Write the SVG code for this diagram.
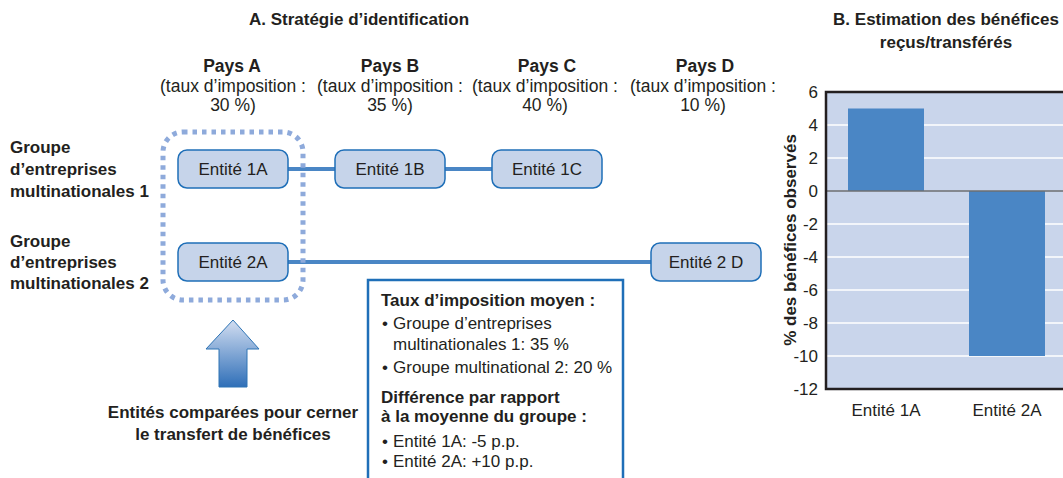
<svg xmlns="http://www.w3.org/2000/svg" width="1063" height="478" viewBox="0 0 1063 478">
<style>
text{font-family:"Liberation Sans",Arial,sans-serif;fill:#231f20;font-size:17px}
.b{font-weight:bold}
.m{text-anchor:middle}
.e{text-anchor:end}
.node{fill:#c6d4ea;stroke:#1f6fb8;stroke-width:1.5}
.conn{stroke:#4a86c5;stroke-width:4;fill:none}
.grid{stroke:#ffffff;stroke-width:1.5}
.hd{font-size:17.5px}
</style>
<defs>
<linearGradient id="ag" x1="0" y1="0" x2="0" y2="1">
<stop offset="0" stop-color="#d3def1"/>
<stop offset="1" stop-color="#2f6fb8"/>
</linearGradient>
</defs>
<rect width="1063" height="478" fill="#ffffff"/>
<!-- Titles -->
<text class="b m" x="359" y="25">A. Stratégie d’identification</text>
<text class="b m" x="946" y="25">B. Estimation des bénéfices</text>
<text class="b m" x="946" y="48">reçus/transférés</text>
<!-- Country headers -->
<g id="paysA">
<text class="b m hd" x="232" y="72">Pays A</text>
<text class="m hd" x="233" y="92">(taux d’imposition :</text>
<text class="m hd" x="233" y="111">30 %)</text>
</g>
<g id="paysB">
<text class="b m hd" x="390" y="72">Pays B</text>
<text class="m hd" x="390" y="92">(taux d’imposition :</text>
<text class="m hd" x="390" y="111">35 %)</text>
</g>
<g id="paysC">
<text class="b m hd" x="547" y="72">Pays C</text>
<text class="m hd" x="545" y="92">(taux d’imposition :</text>
<text class="m hd" x="545" y="111">40 %)</text>
</g>
<g id="paysD">
<text class="b m hd" x="705" y="72">Pays D</text>
<text class="m hd" x="703" y="92">(taux d’imposition :</text>
<text class="m hd" x="703" y="111">10 %)</text>
</g>
<!-- Group labels -->
<g id="groupe1">
<text class="b" x="10" y="153">Groupe</text>
<text class="b" x="10" y="175">d’entreprises</text>
<text class="b" x="10" y="197">multinationales 1</text>
</g>
<g id="groupe2">
<text class="b" x="10" y="247">Groupe</text>
<text class="b" x="10" y="268">d’entreprises</text>
<text class="b" x="10" y="289">multinationales 2</text>
</g>
<!-- Connectors -->
<g id="connectors">
<line class="conn" x1="288" y1="169" x2="335" y2="169"/>
<line class="conn" x1="445" y1="169" x2="492" y2="169"/>
<line class="conn" x1="288" y1="262" x2="651" y2="262"/>
</g>
<!-- Dotted highlight -->
<g id="highlight">
<rect x="163" y="132" width="140" height="168" rx="20" fill="none" stroke="#8eaadb" stroke-width="5" stroke-dasharray="4.5 5"/>
</g>
<!-- Nodes -->
<g id="e1A"><rect class="node" x="178" y="150" width="110" height="38" rx="9"/><text class="m" x="233" y="175">Entité 1A</text></g>
<g id="e1B"><rect class="node" x="335" y="150" width="110" height="38" rx="9"/><text class="m" x="390" y="175">Entité 1B</text></g>
<g id="e1C"><rect class="node" x="492" y="150" width="110" height="38" rx="9"/><text class="m" x="547" y="175">Entité 1C</text></g>
<g id="e2A"><rect class="node" x="178" y="243" width="110" height="38" rx="9"/><text class="m" x="233" y="268">Entité 2A</text></g>
<g id="e2D"><rect class="node" x="651" y="243" width="110" height="38" rx="9"/><text class="m" x="706" y="268">Entité 2 D</text></g>
<!-- Arrow -->
<g id="arrow">
<polygon points="233,320 259,349 247,349 247,387 219,387 219,349 206,349" fill="url(#ag)" stroke="#2e74b5" stroke-width="1"/>
<text class="b m" x="233" y="418">Entités comparées pour cerner</text>
<text class="b m" x="233" y="440">le transfert de bénéfices</text>
</g>
<!-- Info box -->
<g id="infobox">
<rect x="368" y="280" width="255" height="220" fill="#ffffff" stroke="#1f6fb8" stroke-width="2.5"/>
<text class="b" x="381" y="306">Taux d’imposition moyen :</text>
<text x="382" y="329">•</text><text x="393" y="329">Groupe d’entreprises</text>
<text x="393" y="350">multinationales 1: 35 %</text>
<text x="382" y="373">•</text><text x="393" y="373">Groupe multinational 2: 20 %</text>
<text class="b" x="381" y="403">Différence par rapport</text>
<text class="b" x="381" y="422">à la moyenne du groupe :</text>
<text x="382" y="447">•</text><text x="393" y="447">Entité 1A: -5 p.p.</text>
<text x="382" y="467">•</text><text x="393" y="467">Entité 2A: +10 p.p.</text>
</g>
<!-- Chart -->
<g id="chart">
<rect x="826" y="92" width="240" height="297" fill="#c9d5eb"/>
<line class="grid" x1="826" y1="125" x2="1063" y2="125"/>
<line class="grid" x1="826" y1="158" x2="1063" y2="158"/>
<line class="grid" x1="826" y1="224" x2="1063" y2="224"/>
<line class="grid" x1="826" y1="257" x2="1063" y2="257"/>
<line class="grid" x1="826" y1="290" x2="1063" y2="290"/>
<line class="grid" x1="826" y1="323" x2="1063" y2="323"/>
<line class="grid" x1="826" y1="356" x2="1063" y2="356"/>
<rect x="848" y="108.5" width="76" height="82.5" fill="#4a86c5"/>
<rect x="969" y="191" width="76" height="165" fill="#4a86c5"/>
<line x1="826" y1="191" x2="1063" y2="191" stroke="#6d6e71" stroke-width="1.5"/>
<polyline points="1063,92 826,92 826,389 1063,389" fill="none" stroke="#231f20" stroke-width="2.5"/>
<text class="e" x="818" y="98">6</text>
<text class="e" x="818" y="131">4</text>
<text class="e" x="818" y="164">2</text>
<text class="e" x="818" y="197">0</text>
<text class="e" x="818" y="230">-2</text>
<text class="e" x="818" y="263">-4</text>
<text class="e" x="818" y="296">-6</text>
<text class="e" x="818" y="329">-8</text>
<text class="e" x="818" y="362">-10</text>
<text class="e" x="818" y="395">-12</text>
<text class="b m" transform="translate(796,240) rotate(-90)">% des bénéfices observés</text>
<text class="m" x="886" y="416">Entité 1A</text>
<text class="m" x="1007" y="416">Entité 2A</text>
</g>
</svg>
